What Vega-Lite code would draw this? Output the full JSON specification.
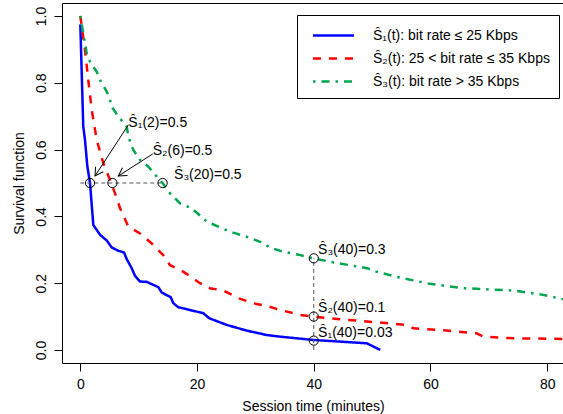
{
  "$schema": "https://vega.github.io/schema/vega-lite/v6.json",
  "autosize": {"type": "none"},
  "padding": {"left": 62, "top": 3, "right": 0, "bottom": 51},
  "width": 502,
  "height": 360,
  "background": "white",
  "datasets": {
    "curves": [
      {"series": "Ŝ₁(t): bit rate ≤ 25 Kbps", "t": 0, "s": 0.975},
      {"series": "Ŝ₁(t): bit rate ≤ 25 Kbps", "t": 0.5, "s": 0.67},
      {"series": "Ŝ₁(t): bit rate ≤ 25 Kbps", "t": 0.8, "s": 0.629},
      {"series": "Ŝ₁(t): bit rate ≤ 25 Kbps", "t": 1.2, "s": 0.55},
      {"series": "Ŝ₁(t): bit rate ≤ 25 Kbps", "t": 1.66, "s": 0.5},
      {"series": "Ŝ₁(t): bit rate ≤ 25 Kbps", "t": 1.95, "s": 0.435},
      {"series": "Ŝ₁(t): bit rate ≤ 25 Kbps", "t": 2.23, "s": 0.374},
      {"series": "Ŝ₁(t): bit rate ≤ 25 Kbps", "t": 3.38, "s": 0.345},
      {"series": "Ŝ₁(t): bit rate ≤ 25 Kbps", "t": 4.52, "s": 0.328},
      {"series": "Ŝ₁(t): bit rate ≤ 25 Kbps", "t": 5.38, "s": 0.307},
      {"series": "Ŝ₁(t): bit rate ≤ 25 Kbps", "t": 6.51, "s": 0.297},
      {"series": "Ŝ₁(t): bit rate ≤ 25 Kbps", "t": 7.49, "s": 0.292},
      {"series": "Ŝ₁(t): bit rate ≤ 25 Kbps", "t": 7.95, "s": 0.272},
      {"series": "Ŝ₁(t): bit rate ≤ 25 Kbps", "t": 8.8, "s": 0.245},
      {"series": "Ŝ₁(t): bit rate ≤ 25 Kbps", "t": 9.37, "s": 0.222},
      {"series": "Ŝ₁(t): bit rate ≤ 25 Kbps", "t": 10.23, "s": 0.205},
      {"series": "Ŝ₁(t): bit rate ≤ 25 Kbps", "t": 11.38, "s": 0.204},
      {"series": "Ŝ₁(t): bit rate ≤ 25 Kbps", "t": 13.37, "s": 0.188},
      {"series": "Ŝ₁(t): bit rate ≤ 25 Kbps", "t": 13.95, "s": 0.172},
      {"series": "Ŝ₁(t): bit rate ≤ 25 Kbps", "t": 15.49, "s": 0.158},
      {"series": "Ŝ₁(t): bit rate ≤ 25 Kbps", "t": 15.94, "s": 0.14},
      {"series": "Ŝ₁(t): bit rate ≤ 25 Kbps", "t": 16.8, "s": 0.128},
      {"series": "Ŝ₁(t): bit rate ≤ 25 Kbps", "t": 21.08, "s": 0.11},
      {"series": "Ŝ₁(t): bit rate ≤ 25 Kbps", "t": 22.1, "s": 0.095},
      {"series": "Ŝ₁(t): bit rate ≤ 25 Kbps", "t": 25.1, "s": 0.075},
      {"series": "Ŝ₁(t): bit rate ≤ 25 Kbps", "t": 28.5, "s": 0.058},
      {"series": "Ŝ₁(t): bit rate ≤ 25 Kbps", "t": 31.9, "s": 0.045},
      {"series": "Ŝ₁(t): bit rate ≤ 25 Kbps", "t": 34.2, "s": 0.04},
      {"series": "Ŝ₁(t): bit rate ≤ 25 Kbps", "t": 39.9, "s": 0.03},
      {"series": "Ŝ₁(t): bit rate ≤ 25 Kbps", "t": 49.1, "s": 0.02},
      {"series": "Ŝ₁(t): bit rate ≤ 25 Kbps", "t": 51.4, "s": 0.0},
      {"series": "Ŝ₂(t): 25 < bit rate ≤ 35 Kbps", "t": 0, "s": 1.0},
      {"series": "Ŝ₂(t): 25 < bit rate ≤ 35 Kbps", "t": 0.8, "s": 0.898},
      {"series": "Ŝ₂(t): 25 < bit rate ≤ 35 Kbps", "t": 1.37, "s": 0.808},
      {"series": "Ŝ₂(t): 25 < bit rate ≤ 35 Kbps", "t": 1.95, "s": 0.719},
      {"series": "Ŝ₂(t): 25 < bit rate ≤ 35 Kbps", "t": 2.81, "s": 0.629},
      {"series": "Ŝ₂(t): 25 < bit rate ≤ 35 Kbps", "t": 3.94, "s": 0.559},
      {"series": "Ŝ₂(t): 25 < bit rate ≤ 35 Kbps", "t": 5.09, "s": 0.509},
      {"series": "Ŝ₂(t): 25 < bit rate ≤ 35 Kbps", "t": 5.95, "s": 0.469},
      {"series": "Ŝ₂(t): 25 < bit rate ≤ 35 Kbps", "t": 6.8, "s": 0.425},
      {"series": "Ŝ₂(t): 25 < bit rate ≤ 35 Kbps", "t": 8.23, "s": 0.369},
      {"series": "Ŝ₂(t): 25 < bit rate ≤ 35 Kbps", "t": 10.23, "s": 0.349},
      {"series": "Ŝ₂(t): 25 < bit rate ≤ 35 Kbps", "t": 12.24, "s": 0.319},
      {"series": "Ŝ₂(t): 25 < bit rate ≤ 35 Kbps", "t": 14.2, "s": 0.284},
      {"series": "Ŝ₂(t): 25 < bit rate ≤ 35 Kbps", "t": 15.37, "s": 0.254},
      {"series": "Ŝ₂(t): 25 < bit rate ≤ 35 Kbps", "t": 17.09, "s": 0.24},
      {"series": "Ŝ₂(t): 25 < bit rate ≤ 35 Kbps", "t": 19.1, "s": 0.218},
      {"series": "Ŝ₂(t): 25 < bit rate ≤ 35 Kbps", "t": 20.5, "s": 0.2},
      {"series": "Ŝ₂(t): 25 < bit rate ≤ 35 Kbps", "t": 22.2, "s": 0.185},
      {"series": "Ŝ₂(t): 25 < bit rate ≤ 35 Kbps", "t": 24.5, "s": 0.178},
      {"series": "Ŝ₂(t): 25 < bit rate ≤ 35 Kbps", "t": 27.1, "s": 0.155},
      {"series": "Ŝ₂(t): 25 < bit rate ≤ 35 Kbps", "t": 29.6, "s": 0.14},
      {"series": "Ŝ₂(t): 25 < bit rate ≤ 35 Kbps", "t": 31.9, "s": 0.132},
      {"series": "Ŝ₂(t): 25 < bit rate ≤ 35 Kbps", "t": 34.2, "s": 0.12},
      {"series": "Ŝ₂(t): 25 < bit rate ≤ 35 Kbps", "t": 37.7, "s": 0.105},
      {"series": "Ŝ₂(t): 25 < bit rate ≤ 35 Kbps", "t": 39.9, "s": 0.1},
      {"series": "Ŝ₂(t): 25 < bit rate ≤ 35 Kbps", "t": 44.5, "s": 0.092},
      {"series": "Ŝ₂(t): 25 < bit rate ≤ 35 Kbps", "t": 51.4, "s": 0.082},
      {"series": "Ŝ₂(t): 25 < bit rate ≤ 35 Kbps", "t": 55.9, "s": 0.075},
      {"series": "Ŝ₂(t): 25 < bit rate ≤ 35 Kbps", "t": 57.1, "s": 0.065},
      {"series": "Ŝ₂(t): 25 < bit rate ≤ 35 Kbps", "t": 62.8, "s": 0.058},
      {"series": "Ŝ₂(t): 25 < bit rate ≤ 35 Kbps", "t": 67.9, "s": 0.05},
      {"series": "Ŝ₂(t): 25 < bit rate ≤ 35 Kbps", "t": 69.1, "s": 0.04},
      {"series": "Ŝ₂(t): 25 < bit rate ≤ 35 Kbps", "t": 74.2, "s": 0.035},
      {"series": "Ŝ₂(t): 25 < bit rate ≤ 35 Kbps", "t": 82.7, "s": 0.033},
      {"series": "Ŝ₃(t): bit rate > 35 Kbps", "t": 0, "s": 1.0},
      {"series": "Ŝ₃(t): bit rate > 35 Kbps", "t": 0.51, "s": 0.948},
      {"series": "Ŝ₃(t): bit rate > 35 Kbps", "t": 1.1, "s": 0.888},
      {"series": "Ŝ₃(t): bit rate > 35 Kbps", "t": 1.66, "s": 0.863},
      {"series": "Ŝ₃(t): bit rate > 35 Kbps", "t": 2.81, "s": 0.833},
      {"series": "Ŝ₃(t): bit rate > 35 Kbps", "t": 3.38, "s": 0.808},
      {"series": "Ŝ₃(t): bit rate > 35 Kbps", "t": 4.23, "s": 0.783},
      {"series": "Ŝ₃(t): bit rate > 35 Kbps", "t": 4.97, "s": 0.758},
      {"series": "Ŝ₃(t): bit rate > 35 Kbps", "t": 5.38, "s": 0.728},
      {"series": "Ŝ₃(t): bit rate > 35 Kbps", "t": 6.51, "s": 0.699},
      {"series": "Ŝ₃(t): bit rate > 35 Kbps", "t": 7.95, "s": 0.669},
      {"series": "Ŝ₃(t): bit rate > 35 Kbps", "t": 8.23, "s": 0.639},
      {"series": "Ŝ₃(t): bit rate > 35 Kbps", "t": 9.08, "s": 0.599},
      {"series": "Ŝ₃(t): bit rate > 35 Kbps", "t": 10.23, "s": 0.569},
      {"series": "Ŝ₃(t): bit rate > 35 Kbps", "t": 11.65, "s": 0.549},
      {"series": "Ŝ₃(t): bit rate > 35 Kbps", "t": 13.1, "s": 0.519},
      {"series": "Ŝ₃(t): bit rate > 35 Kbps", "t": 14.1, "s": 0.5},
      {"series": "Ŝ₃(t): bit rate > 35 Kbps", "t": 15.37, "s": 0.469},
      {"series": "Ŝ₃(t): bit rate > 35 Kbps", "t": 17.09, "s": 0.439},
      {"series": "Ŝ₃(t): bit rate > 35 Kbps", "t": 19.1, "s": 0.424},
      {"series": "Ŝ₃(t): bit rate > 35 Kbps", "t": 21.7, "s": 0.384},
      {"series": "Ŝ₃(t): bit rate > 35 Kbps", "t": 25.7, "s": 0.354},
      {"series": "Ŝ₃(t): bit rate > 35 Kbps", "t": 28.5, "s": 0.339},
      {"series": "Ŝ₃(t): bit rate > 35 Kbps", "t": 30.8, "s": 0.324},
      {"series": "Ŝ₃(t): bit rate > 35 Kbps", "t": 32.5, "s": 0.307},
      {"series": "Ŝ₃(t): bit rate > 35 Kbps", "t": 34.2, "s": 0.297},
      {"series": "Ŝ₃(t): bit rate > 35 Kbps", "t": 37.7, "s": 0.284},
      {"series": "Ŝ₃(t): bit rate > 35 Kbps", "t": 39.9, "s": 0.2745},
      {"series": "Ŝ₃(t): bit rate > 35 Kbps", "t": 42.8, "s": 0.264},
      {"series": "Ŝ₃(t): bit rate > 35 Kbps", "t": 49.1, "s": 0.245},
      {"series": "Ŝ₃(t): bit rate > 35 Kbps", "t": 50.8, "s": 0.234},
      {"series": "Ŝ₃(t): bit rate > 35 Kbps", "t": 54.2, "s": 0.219},
      {"series": "Ŝ₃(t): bit rate > 35 Kbps", "t": 59.9, "s": 0.198},
      {"series": "Ŝ₃(t): bit rate > 35 Kbps", "t": 65.6, "s": 0.185},
      {"series": "Ŝ₃(t): bit rate > 35 Kbps", "t": 74.2, "s": 0.178},
      {"series": "Ŝ₃(t): bit rate > 35 Kbps", "t": 79.3, "s": 0.165},
      {"series": "Ŝ₃(t): bit rate > 35 Kbps", "t": 82.7, "s": 0.152}
    ],
    "guides": [
      {"t": 0, "s": 0.5, "t2": 14.1, "s2": 0.5},
      {"t": 40, "s": 0.0, "t2": 40, "s2": 0.2745}
    ],
    "marks": [
      {"t": 1.66, "s": 0.5},
      {"t": 5.5, "s": 0.5},
      {"t": 14.1, "s": 0.5},
      {"t": 40, "s": 0.2745},
      {"t": 40, "s": 0.1},
      {"t": 40, "s": 0.028}
    ],
    "arrows": [
      {"id": 1, "t": 8.23, "s": 0.674, "t2": 2.52, "s2": 0.521},
      {"id": 2, "t": 12.41, "s": 0.587, "t2": 6.51, "s2": 0.521}
    ],
    "labels": [
      {"t": 8.23, "s": 0.68, "text": "Ŝ₁(2)=0.5"},
      {"t": 12.41, "s": 0.597, "text": "Ŝ₂(6)=0.5"},
      {"t": 16.06, "s": 0.524, "text": "Ŝ₃(20)=0.5"},
      {"t": 40.74, "s": 0.299, "text": "Ŝ₃(40)=0.3"},
      {"t": 40.74, "s": 0.125, "text": "Ŝ₂(40)=0.1"},
      {"t": 40.74, "s": 0.05, "text": "Ŝ₁(40)=0.03"}
    ]
  },
  "layer": [
    {
      "data": {"name": "curves"},
      "mark": {"type": "line", "strokeWidth": 2.5, "strokeCap": "butt"},
      "encoding": {
        "x": {
          "field": "t", "type": "quantitative",
          "scale": {"domain": [-3.14, 82.88], "nice": false, "zero": false},
          "axis": {"values": [0, 20, 40, 60, 80], "title": "Session time (minutes)", "labelPadding": 6, "titlePadding": 8}
        },
        "y": {
          "field": "s", "type": "quantitative",
          "scale": {"domain": [-0.039, 1.039], "nice": false, "zero": false},
          "axis": {"values": [0, 0.2, 0.4, 0.6, 0.8, 1.0], "format": ".1f", "labelAngle": -90, "labelAlign": "center", "labelBaseline": "bottom", "labelPadding": 6, "title": "Survival function", "titlePadding": 8}
        },
        "color": {
          "field": "series", "type": "nominal",
          "scale": {
            "domain": ["Ŝ₁(t): bit rate ≤ 25 Kbps", "Ŝ₂(t): 25 < bit rate ≤ 35 Kbps", "Ŝ₃(t): bit rate > 35 Kbps"],
            "range": ["#0000ff", "#ff0000", "#00a550"]
          },
          "legend": {
            "title": null, "orient": "none", "legendX": 235, "legendY": 12,
            "symbolType": "M -2 0 L 2 0", "symbolSize": 420, "symbolStrokeWidth": 2.5,
            "symbolFillColor": "transparent", "symbolOffset": 16,
            "labelFontSize": 14, "labelFont": "Liberation Sans", "labelColor": "black",
            "labelOffset": 28, "rowPadding": 4, "padding": 9,
            "strokeColor": "black", "fillColor": "white", "labelLimit": 300
          }
        },
        "strokeDash": {
          "field": "series", "type": "nominal",
          "scale": {
            "domain": ["Ŝ₁(t): bit rate ≤ 25 Kbps", "Ŝ₂(t): 25 < bit rate ≤ 35 Kbps", "Ŝ₃(t): bit rate > 35 Kbps"],
            "range": [[1, 0], [8, 8], [2.5, 6, 8, 6]]
          },
          "legend": null
        }
      }
    },
    {
      "data": {"name": "guides"},
      "mark": {"type": "rule", "color": "#555555", "strokeWidth": 1, "strokeDash": [4, 3]},
      "encoding": {
        "x": {"field": "t", "type": "quantitative"},
        "y": {"field": "s", "type": "quantitative"},
        "x2": {"field": "t2"},
        "y2": {"field": "s2"}
      }
    },
    {
      "data": {"name": "marks"},
      "mark": {"type": "point", "shape": "circle", "filled": false, "color": "black", "strokeWidth": 1, "size": 85, "opacity": 1},
      "encoding": {
        "x": {"field": "t", "type": "quantitative"},
        "y": {"field": "s", "type": "quantitative"}
      }
    },
    {
      "data": {"name": "arrows"},
      "mark": {"type": "rule", "color": "black", "strokeWidth": 1},
      "encoding": {
        "x": {"field": "t", "type": "quantitative"},
        "y": {"field": "s", "type": "quantitative"},
        "x2": {"field": "t2"},
        "y2": {"field": "s2"}
      }
    },
    {
      "data": {"name": "arrows"},
      "transform": [{"filter": "datum.id == 1"}],
      "mark": {"type": "point", "shape": "M -1 -0.577 L 0 0 L -1 0.577", "filled": false, "color": "black", "strokeWidth": 1, "size": 256, "angle": 123, "opacity": 1},
      "encoding": {
        "x": {"field": "t2", "type": "quantitative"},
        "y": {"field": "s2", "type": "quantitative"}
      }
    },
    {
      "data": {"name": "arrows"},
      "transform": [{"filter": "datum.id == 2"}],
      "mark": {"type": "point", "shape": "M -1 -0.577 L 0 0 L -1 0.577", "filled": false, "color": "black", "strokeWidth": 1, "size": 256, "angle": 147, "opacity": 1},
      "encoding": {
        "x": {"field": "t2", "type": "quantitative"},
        "y": {"field": "s2", "type": "quantitative"}
      }
    },
    {
      "data": {"name": "labels"},
      "mark": {"type": "text", "align": "left", "baseline": "middle", "font": "Liberation Sans", "fontSize": 14, "color": "black"},
      "encoding": {
        "x": {"field": "t", "type": "quantitative"},
        "y": {"field": "s", "type": "quantitative"},
        "text": {"field": "text"}
      }
    }
  ],
  "config": {
    "view": {"stroke": "black", "strokeWidth": 1},
    "axis": {
      "domain": false, "grid": false,
      "tickColor": "black", "tickSize": 8, "tickWidth": 1,
      "labelFont": "Liberation Sans", "labelFontSize": 14, "labelColor": "black",
      "titleFont": "Liberation Sans", "titleFontSize": 14, "titleFontWeight": "normal", "titleColor": "black"
    }
  }
}
